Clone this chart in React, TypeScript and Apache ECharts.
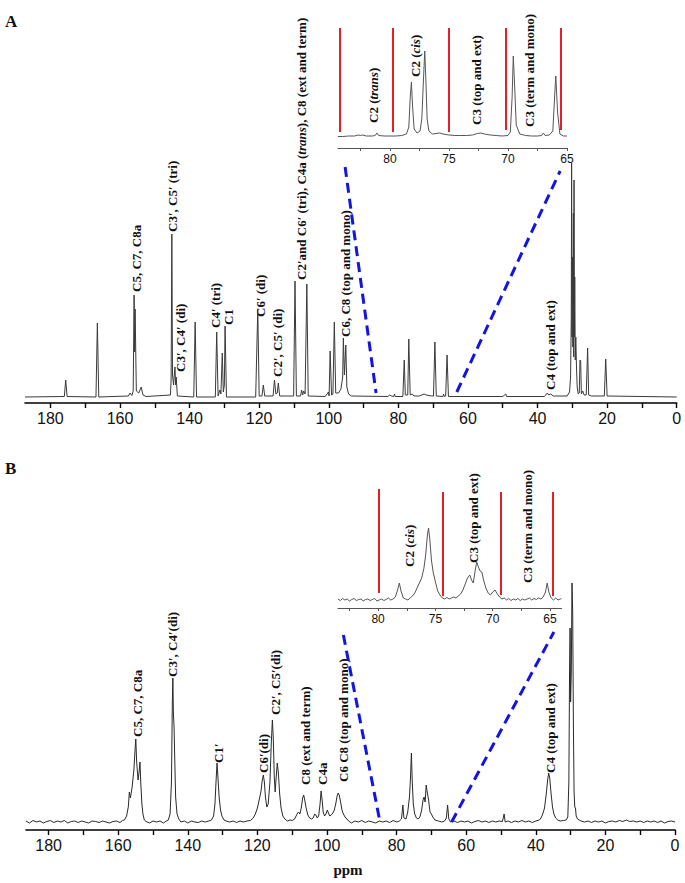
import React, { useEffect, useRef } from 'react';
import * as echarts from 'echarts';

// ---------- axis ticks / labels ----------
const mainTicks = [180, 170, 160, 150, 140, 130, 120, 110, 100, 90, 80, 70, 60, 50, 40, 30, 20, 10, 0];
const mainLabels = [180, 160, 140, 120, 100, 80, 60, 40, 20, 0];
const insetTicks = [82.5, 80, 77.5, 75, 72.5, 70, 67.5, 65];
const insetLabels = [80, 75, 70, 65];

// ---------- spectrum A (main): [ppm, intensity] ----------
const specA: number[][] = [
  [187.3, 0], [176, 0.5], [175.6, 17], [175.2, 0.5],
  [166.9, 0], [166.5, 74], [166.1, 0],
  [157.6, 1], [157.1, 4], [156.6, 1.5], [156.2, 6], [155.95, 102], [155.8, 45], [155.65, 88], [155.3, 6], [154.6, 4], [153.9, 10], [153.4, 2], [152.5, 0.5],
  [145.5, 2], [145.3, 18], [145.1, 163], [144.9, 22], [144.6, 12], [144.4, 22], [144.2, 30], [144.0, 12], [143.85, 20], [143.5, 1],
  [138.8, 0], [138.4, 75], [138.0, 0],
  [132.6, 0], [132.2, 65], [131.8, 1], [131.3, 7], [131.0, 3], [130.6, 44], [130.3, 5], [130.0, 12], [129.8, 71], [129.4, 0],
  [121, 0], [120.4, 88], [120.0, 1], [119.2, 1], [118.8, 12], [118.4, 1],
  [116.0, 1], [115.6, 17], [115.2, 3], [114.8, 4], [114.5, 14], [114.1, 1],
  [110.1, 1], [109.7, 116], [109.3, 1], [108.1, 1], [107.8, 7], [107.5, 2], [107.2, 6], [106.8, 3], [106.3, 113], [105.9, 1],
  [101, 0.5], [100.1, 5], [99.9, 1], [99.6, 46], [99.2, 2], [98.8, 3], [98.4, 75], [98.0, 4],
  [97.2, 4], [96.5, 8], [96.0, 20], [95.8, 59], [95.5, 22], [95.1, 52], [94.8, 10], [94.3, 3], [93.5, 1],
  [83, 0.5], [82.5, 2], [82, 1], [81.3, 0.5], [81.1, 3], [80.9, 0.5], [78.7, 0.5], [78.3, 37], [78.0, 2], [77.3, 2], [77.0, 58], [76.6, 2], [76.0, 3], [75.5, 1], [74, 1], [72.6, 3], [72.0, 2], [70.5, 1], [69.9, 1], [69.5, 55], [69.1, 1], [67.2, 0.5], [67.0, 3], [66.8, 0.5], [66.4, 1], [66.0, 42], [65.6, 0.5],
  [50, 0.5], [49.1, 3], [48.9, 0.5],
  [38, 0.5], [37.2, 4], [36.8, 2], [36.2, 3], [35.5, 1],
  [31.5, 1], [30.8, 5], [30.5, 20], [30.3, 80], [30.2, 234], [30.1, 60], [29.95, 140], [29.85, 50], [29.7, 184], [29.6, 40], [29.5, 217], [29.4, 60], [29.3, 120], [29.15, 37], [29.0, 60], [28.8, 30], [28.6, 10], [28.3, 3], [28.0, 4], [27.8, 37], [27.6, 36], [27.4, 3], [27.0, 6], [26.6, 2], [26.0, 2], [25.6, 49], [25.3, 2], [24.5, 1], [20.8, 1], [20.4, 38], [20.0, 1], [0, 0],
];

// ---------- spectrum A inset ----------
const specAInset: number[][] = [
  [84.4, 0.5], [84.0, 0.5], [83.5, 1], [83, 1], [82.7, 2], [82.5, 1.5], [82.3, 2], [82, 1], [81.5, 1], [81.25, 1.5], [81.1, 4], [80.95, 1.5], [80.5, 1], [80, 1], [79.5, 1], [79, 1.5],
  [78.6, 3], [78.4, 10], [78.28, 40], [78.18, 55], [78.08, 30], [77.95, 8], [77.7, 4], [77.45, 6], [77.3, 18], [77.15, 60], [77.05, 86], [76.95, 55], [76.85, 18], [76.7, 6], [76.4, 3], [76.1, 3.5], [75.8, 4], [75.5, 3], [75.0, 2], [74.5, 1.5], [74, 1.5], [73.5, 1.5], [73, 2], [72.6, 3.5], [72.3, 4], [72.0, 3], [71.5, 2], [71, 1.5], [70.5, 1], [70, 1.5],
  [69.8, 5], [69.65, 40], [69.55, 81], [69.45, 55], [69.3, 12], [69.0, 3], [68.5, 1.5], [68, 1], [67.5, 1], [67.15, 1.5], [67.0, 4], [66.85, 1.5], [66.5, 2], [66.2, 6], [66.05, 40], [65.95, 61], [65.8, 25], [65.6, 3], [65.3, 1], [65, 1],
];

// ---------- spectrum B (main) ----------
const specB: number[][] = [
  [186.5, 1], [185.5, -1], [184.5, 1.5], [183.5, 0], [182.5, 1], [181.5, -1], [180.5, 0.5], [179.5, 1.5], [178.5, -0.5], [177.5, 1], [176.5, 0], [175.5, 1.5], [174.5, -1], [173.5, 0.5], [172.5, 1], [171.5, -0.5], [170.5, 1], [169.5, 0], [168.5, -1], [167.5, 1], [166.5, 0.5], [165.5, -0.5], [164.5, 1], [163.5, 0], [162.5, -1], [161.5, 0.5], [160.5, 1], [159.5, -0.5], [158.8, 1.5],
  [158.2, 2], [157.6, 6], [157.1, 15], [156.8, 30], [156.5, 24], [156.0, 35], [155.5, 52], [155.2, 70], [154.95, 83], [154.7, 60], [154.3, 42], [154.0, 50], [153.75, 60], [153.5, 38], [153.2, 18], [152.9, 8], [152.5, 2], [152, 0.5],
  [151, -1], [150, 1], [149, 0], [148, 1], [147, -1], [146.2, 1],
  [145.6, 2], [145.1, 8], [144.7, 40], [144.45, 120], [144.3, 144], [144.15, 110], [143.95, 95], [143.8, 70], [143.5, 25], [143.1, 8], [142.6, 3], [142, 0], [141, 1], [140, -1], [139, 1], [138, 0], [137, -0.5], [136, 1], [135, 0], [134, 1], [133.2, 2],
  [132.6, 6], [132.2, 18], [131.9, 40], [131.6, 59], [131.35, 45], [131.0, 25], [130.6, 12], [130.2, 6], [129.6, 2], [129, 1], [128, 0], [127, 1], [126, -0.5], [125, 1], [124, 0], [123, 1], [122, 1.5], [121.2, 4],
  [120.6, 8], [120.0, 14], [119.5, 22], [119.0, 30], [118.6, 42], [118.3, 47], [118.0, 40], [117.7, 25], [117.3, 15], [116.9, 18], [116.4, 40], [116.0, 80], [115.7, 102], [115.45, 85], [115.15, 45], [114.9, 30], [114.6, 45], [114.3, 59], [114.0, 50], [113.6, 28], [113.2, 14], [112.7, 6], [112.1, 3], [111.4, 1], [110.6, 2], [110, 1.5], [109.3, 3],
  [108.6, 8], [108.2, 10], [107.8, 8], [107.4, 14], [107.0, 24], [106.7, 27], [106.4, 22], [106.0, 14], [105.5, 7], [105, 4], [104.4, 3], [104, 4], [103.5, 8], [103.2, 7], [102.8, 4], [102.4, 6], [102.0, 18], [101.7, 31], [101.4, 22], [101.1, 10], [100.7, 6], [100.3, 8], [99.9, 12], [99.6, 9], [99.2, 6], [98.8, 7], [98.3, 9], [97.9, 12], [97.5, 18], [97.1, 26], [96.8, 29], [96.5, 27], [96.1, 20], [95.7, 12], [95.3, 8], [94.8, 5], [94.3, 3], [93.8, 1],
  [93, -1], [92, 1], [91, 0], [90, 1.5], [89, -0.5], [88, 1], [87, 0], [86, -1], [85, 1], [84, 0], [83, 1], [82, -0.5], [81, 1.5], [80, 0], [79.2, 1],
  [78.6, 3], [78.2, 17], [77.9, 4], [77.3, 3], [76.8, 10], [76.3, 25], [76.0, 45], [75.75, 69], [75.5, 40], [75.2, 18], [74.8, 8], [74.3, 4], [73.8, 3], [73.3, 5], [72.8, 12], [72.4, 22], [72.1, 25], [71.8, 20], [71.5, 37], [71.2, 30], [70.8, 22], [70.4, 10], [70.0, 8], [69.6, 5], [69.0, 2], [68, 1], [67, 0], [66.2, 1], [65.7, 4], [65.35, 17], [65.0, 3], [64.5, 0],
  [63.5, 1], [62.5, -0.5], [61.5, 1], [60.5, 0], [59.5, 1], [58.5, -1], [57.5, 0.5], [56.5, 1.5], [55.5, 0], [54.5, 1], [53.5, -0.5], [52.5, 1], [51.5, 0], [50.5, 1], [49.6, 0.5], [49.1, 8], [48.8, 0], [48, 1], [47, -0.5], [46, 1], [45, 0], [44, 1.5], [43, 0], [42, 1], [41, -0.5], [40, 1], [39, 2],
  [38.5, 4], [38.0, 8], [37.5, 14], [37.0, 28], [36.6, 42], [36.3, 49], [36.0, 44], [35.6, 28], [35.2, 15], [34.8, 8], [34.3, 4], [33.7, 2], [33, 1], [32, 1.5], [31.3, 2],
  [30.8, 5], [30.5, 40], [30.3, 150], [30.15, 194], [30.0, 120], [29.8, 150], [29.6, 239], [29.4, 210], [29.2, 100], [29.0, 30], [28.8, 15], [28.6, 14], [28.4, 6], [28.0, 3], [27.5, 2], [27, 1], [26, 0], [25, 1], [24, -0.5], [23, 1], [22, 0], [21, 1], [20, -1], [19, 0.5], [18, 1], [17, 0], [16, 1.5], [15, 0.5], [14, 2], [13, 0.5], [12, 1], [11, 0], [10, 1], [9, -0.5], [8, 1], [7, 0], [6, 1], [5, -0.5], [4, 1], [3, -1], [2, 0.5], [1, 1], [0, 0],
];

// ---------- spectrum B inset ----------
const specBInset: number[][] = [
  [83.5, 1], [83.3, -0.5], [83.1, 1.5], [82.9, 0], [82.7, 1], [82.5, -1], [82.3, 0.5], [82.1, 1.5], [81.9, -0.5], [81.7, 0.5], [81.5, 1], [81.3, -1], [81.1, 0.5], [80.9, 1], [80.7, -0.5], [80.5, 0.5], [80.3, 1.5], [80.1, -1], [79.9, 0], [79.7, 1], [79.5, -0.5], [79.3, 0.5], [79.1, 2], [78.9, 0], [78.7, 1],
  [78.5, 3], [78.3, 10], [78.15, 17], [78.0, 9], [77.8, 2], [77.6, 1], [77.4, 0], [77.2, 2], [77.0, 4], [76.8, 7], [76.6, 12], [76.4, 17], [76.2, 22], [76.0, 32], [75.85, 45], [75.7, 65], [75.6, 72], [75.5, 62], [75.35, 40], [75.2, 28], [75.0, 18], [74.8, 9], [74.6, 5], [74.4, 2], [74.2, 1],
  [74.0, 2.5], [73.8, 1], [73.6, 2], [73.4, 3], [73.2, 2], [73.0, 4], [72.8, 6], [72.6, 10], [72.4, 16], [72.2, 22], [72.0, 25], [71.85, 20], [71.7, 17], [71.55, 28], [71.4, 38], [71.25, 33], [71.1, 29], [70.95, 28], [70.8, 20], [70.6, 12], [70.4, 7], [70.2, 5], [70.0, 8], [69.8, 10], [69.6, 6], [69.4, 3], [69.2, 1],
  [69.0, 2], [68.8, 0], [68.6, 1.5], [68.4, -0.5], [68.2, 1], [68.0, 0], [67.8, 1.5], [67.6, -0.5], [67.4, 1], [67.2, 0], [67.0, 1], [66.8, 2], [66.6, 0], [66.4, 1.5], [66.2, 0.5], [66.0, 2], [65.8, 1], [65.6, 3], [65.4, 8], [65.25, 17], [65.1, 8], [64.9, 2], [64.7, 0], [64.5, 2], [64.3, 0], [64.1, 1], [64.0, 1.5],
];

// red guide lines in insets (ppm)
const redA = [84.24, 79.75, 75.0, 70.17, 65.5];
const redB = [79.95, 74.4, 69.3, 64.75];

// blue dashed zoom lines (ppm, intensity)
const zoomA1 = [[95.3, 230], [86.4, 4]];
const zoomA2 = [[63.2, 5], [33.5, 226]];
const zoomB1 = [[95.3, 187], [85.0, 4]];
const zoomB2 = [[64.2, 0], [34.8, 190]];

// annotation labels: text, x, bottom y
const labelsText: [string, number, number][] = [
  ['C5, C7, C8a', 136, 292],
  ['C3′, C5′ (tri)', 172, 232],
  ['C3′, C4′ (di)', 180, 372],
  ['C4′ (tri)', 215, 328],
  ['C1', 228, 325],
  ['C6′ (di)', 260, 317],
  ['C2′, C5′ (di)', 277, 377],
  ['C2′and C6′ (tri), C4a ({i|trans}), C8 (ext and term)', 301, 280],
  ['C6, C8 (top and mono)', 345, 337],
  ['C4 (top and ext)', 550, 390],
  ['C2 ({i|trans})', 373, 123],
  ['C2 ({i|cis})', 415, 77],
  ['C3 (top and ext)', 476, 125],
  ['C3 (term and mono)', 529, 127],
  ['C5, C7, C8a', 137, 737],
  ['C3′, C4′(di)', 172, 677],
  ['C1′', 218, 763],
  ['C6′(di)', 263, 773],
  ['C2′, C5′(di)', 275, 715],
  ['C8 (ext and term)', 305, 785],
  ['C4a', 322, 785],
  ['C6 C8 (top and mono)', 343, 782],
  ['C4 (top and ext)', 550, 773],
  ['C2 ({i|cis})', 409, 567],
  ['C3 (top and ext)', 473, 563],
  ['C3 (term and mono)', 527, 583],
];

const SERIF = '"Liberation Serif", "Times New Roman", serif';
const SANS = '"Liberation Sans", Arial, sans-serif';

function mainX(gridIndex: number, maxV: number) {
  return {
    type: 'value', gridIndex, min: 0, max: maxV, inverse: true,
    axisLine: { show: true, onZero: false, lineStyle: { color: '#000', width: 1.6 } },
    axisTick: { show: true, customValues: mainTicks, length: 5, lineStyle: { color: '#000', width: 1.4 } },
    axisLabel: { show: true, customValues: mainLabels, fontSize: 16, color: '#111', fontFamily: SANS, margin: 7 },
    splitLine: { show: false },
  };
}
function insetX(gridIndex: number, minV: number, maxV: number) {
  return {
    type: 'value', gridIndex, min: minV, max: maxV, inverse: true,
    axisLine: { show: true, onZero: false, lineStyle: { color: '#555', width: 1.2 } },
    axisTick: { show: true, customValues: insetTicks, length: 3, lineStyle: { color: '#555', width: 1 } },
    axisLabel: { show: true, customValues: insetLabels, fontSize: 12, color: '#111', fontFamily: SANS, margin: 5 },
    splitLine: { show: false },
  };
}
function yAx(gridIndex: number, minV: number, maxV: number) {
  return { type: 'value', gridIndex, min: minV, max: maxV, show: false };
}
function spec(idx: number, data: number[][], color: string, width: number, extra: any = {}) {
  return {
    type: 'line', xAxisIndex: idx, yAxisIndex: idx, data, showSymbol: false, symbol: 'none',
    lineStyle: { color, width }, silent: true, z: 2, ...extra,
  };
}
function dashed(idx: number, data: number[][]) {
  return {
    type: 'line', xAxisIndex: idx, yAxisIndex: idx, data, showSymbol: false, symbol: 'none',
    lineStyle: { color: '#1414e0', width: 3, type: [10, 6] }, silent: true, z: 5, clip: false,
  };
}
function redLines(vals: number[], lo: number[], hi: number[]) {
  return {
    silent: true, symbol: ['none', 'none'], label: { show: false },
    lineStyle: { color: '#e3202a', width: 2, type: 'solid' },
    emphasis: { disabled: true },
    data: vals.map((v, i) => [{ coord: [v, lo[i]] }, { coord: [v, hi[i]] }]),
  };
}

export default function App() {
  const ref = useRef<HTMLDivElement>(null);
  useEffect(() => {
    if (!ref.current) return;
    const chart = echarts.init(ref.current, null, { renderer: 'svg' });
    const graphic: any[] = labelsText.map(([t, x, y]) => ({
      type: 'text', x, y, rotation: Math.PI / 2, silent: true,
      style: {
        text: t, fill: '#111', fontSize: 13, fontWeight: 'bold', fontFamily: SERIF,
        align: 'left', verticalAlign: 'middle',
        rich: { i: { fontSize: 13, fontWeight: 'bold', fontStyle: 'italic', fontFamily: SERIF, fill: '#111' } },
      },
    }));
    graphic.push(
      { type: 'text', x: 5, y: 13, silent: true, style: { text: 'A', fill: '#111', fontSize: 17, fontWeight: 'bold', fontFamily: SERIF } },
      { type: 'text', x: 5, y: 460, silent: true, style: { text: 'B', fill: '#111', fontSize: 17, fontWeight: 'bold', fontFamily: SERIF } },
      { type: 'text', x: 348, y: 870, silent: true, style: { text: 'ppm', fill: '#111', fontSize: 15, fontWeight: 'bold', fontFamily: SERIF, align: 'center', verticalAlign: 'middle' } },
    );
    chart.setOption({
      animation: false,
      backgroundColor: '#fff',
      grid: [
        { left: 25, right: 8.3, top: 150, bottom: 480 },
        { left: 338, right: 118, top: 20, bottom: 735 },
        { left: 26, right: 10, top: 560, bottom: 53 },
        { left: 338, right: 123.5, top: 460, bottom: 275 },
      ],
      xAxis: [mainX(0, 187.3), insetX(1, 65, 84.4), mainX(2, 186.5), insetX(3, 64, 83.5)],
      yAxis: [yAx(0, -6, 247), yAx(1, -11, 117), yAx(2, -8, 262), yAx(3, -8, 140)],
      series: [
        spec(0, specA, '#3a3a3a', 1),
        spec(1, specAInset, '#555', 1, { markLine: redLines(redA, [5, 5, 5, 7, 7], [109, 109, 109, 109, 109]) }),
        spec(2, specB, '#2a2a2a', 1),
        spec(3, specBInset, '#555', 1, { markLine: redLines(redB, [7, 4, 5, 4], [111, 108, 108, 108]) }),
        dashed(0, zoomA1), dashed(0, zoomA2), dashed(2, zoomB1), dashed(2, zoomB2),
      ],
      graphic,
    });
    return () => chart.dispose();
  }, []);
  return <div ref={ref} style={{ position: 'absolute', left: 0, top: 0, width: 685, height: 883, background: '#fff' }} />;
}
